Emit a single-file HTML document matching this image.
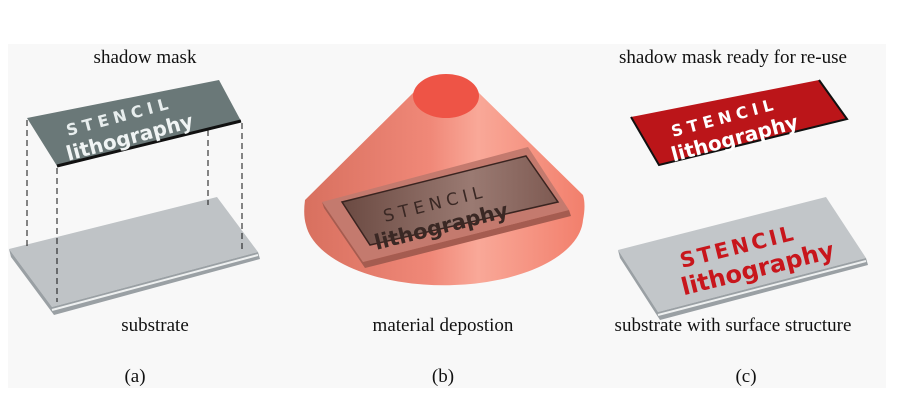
<!DOCTYPE html>
<html><head><meta charset="utf-8"><style>
html,body{margin:0;padding:0;background:#fff;width:909px;height:403px;overflow:hidden}
svg{display:block}
.l{font-family:"Liberation Serif",serif;font-size:19px;fill:#111}
.s{font-family:"DejaVu Sans","Liberation Sans",sans-serif;font-weight:bold}
</style></head><body>
<svg width="909" height="403" viewBox="0 0 909 403" xmlns="http://www.w3.org/2000/svg">
<defs>
<linearGradient id="cone" x1="0" x2="1" y1="0" y2="0">
<stop offset="0" stop-color="#d8705f"/><stop offset="0.45" stop-color="#f08878"/><stop offset="0.62" stop-color="#f9a898"/><stop offset="1" stop-color="#f27f6c"/>
</linearGradient>
<linearGradient id="plate" x1="0" x2="1" y1="0" y2="0">
<stop offset="0" stop-color="#6b4a42"/><stop offset="0.6" stop-color="#9a7a72"/><stop offset="1" stop-color="#7e5a52"/>
</linearGradient>
</defs>
<rect x="8" y="44" width="878" height="344" fill="#f8f8f8"/>

<!-- panel a -->
<text class="l" x="145" y="63" text-anchor="middle">shadow mask</text>
<polygon points="27,118 219,80 241,121 57,166" fill="#6a7878"/>
<polyline points="57,166 241,121" stroke="#111" stroke-width="3" fill="none"/>
<g transform="translate(68,136) rotate(-15)" class="s">
<text x="0" y="0" font-size="16" fill="#e8eeee" letter-spacing="5">STENCIL</text>
<text x="-6" y="24" font-size="20" fill="#f0f4f4">lithography</text>
</g>
<polygon points="9,249 217,197 258,252 52,307" fill="#bfc3c6"/>
<polygon points="9,249 52,307 258,252 260,259 54,315 11,257" fill="#9aa0a4"/>
<polyline points="52,310 258,255" stroke="#eef0f0" stroke-width="2" fill="none"/>
<g stroke="#111" stroke-width="1" stroke-dasharray="6,4">
<line x1="27" y1="120" x2="27" y2="250"/><line x1="57" y1="168" x2="57" y2="302"/>
<line x1="208" y1="130" x2="208" y2="205"/><line x1="242" y1="123" x2="242" y2="252"/>
</g>
<text class="l" x="155" y="331" text-anchor="middle">substrate</text>
<text class="l" x="135" y="382" text-anchor="middle">(a)</text>

<!-- panel b -->
<path d="M414,92 L305,200 Q303,215 306,225 A139,68 0 0 0 583,220 Q586,205 583,195 L478,92 Z" fill="url(#cone)"/>
<ellipse cx="446" cy="96" rx="33" ry="22" fill="#ee5446"/>
<polygon points="322,202 528,147 569,210 363,262" fill="#c47a6e"/>
<polygon points="322,202 363,262 569,210 571,216 365,268 324,208" fill="#a55c50"/>
<polygon points="342,202 526,156 558,202 370,245" fill="url(#plate)" stroke="#3a2420" stroke-width="1.5"/>
<g transform="translate(385,222) rotate(-14)" class="s">
<text x="0" y="0" font-size="17" fill="#3a2824" letter-spacing="5" font-weight="normal">STENCIL</text>
<text x="-15" y="25" font-size="21" fill="#3a2824">lithography</text>
</g>
<text class="l" x="443" y="331" text-anchor="middle">material depostion</text>
<text class="l" x="443" y="382" text-anchor="middle">(b)</text>

<!-- panel c -->
<text class="l" x="733" y="63" text-anchor="middle">shadow mask ready for re-use</text>
<polygon points="631,117 819,80 847,119 659,165" fill="#bb1519"/>
<polyline points="631,117 659,165 847,119 819,80" stroke="#111" stroke-width="2" fill="none"/>
<g transform="translate(673,137) rotate(-15)" class="s">
<text x="0" y="0" font-size="16" fill="#fff" letter-spacing="5">STENCIL</text>
<text x="-6" y="24" font-size="20" fill="#fff">lithography</text>
</g>
<polygon points="618,250 826,197 866,258 658,312" fill="#c2c6c9"/>
<polygon points="618,250 658,312 866,258 868,265 660,320 620,258" fill="#9aa0a4"/>
<polyline points="658,315 866,261" stroke="#eef0f0" stroke-width="2" fill="none"/>
<g transform="translate(682,268) rotate(-14)" class="s">
<text x="0" y="0" font-size="21" fill="#c8161c" letter-spacing="3">STENCIL</text>
<text x="-5" y="27" font-size="24" fill="#c8161c">lithography</text>
</g>
<text class="l" x="733" y="331" text-anchor="middle">substrate with surface structure</text>
<text class="l" x="746" y="382" text-anchor="middle">(c)</text>
</svg>
</body></html>
